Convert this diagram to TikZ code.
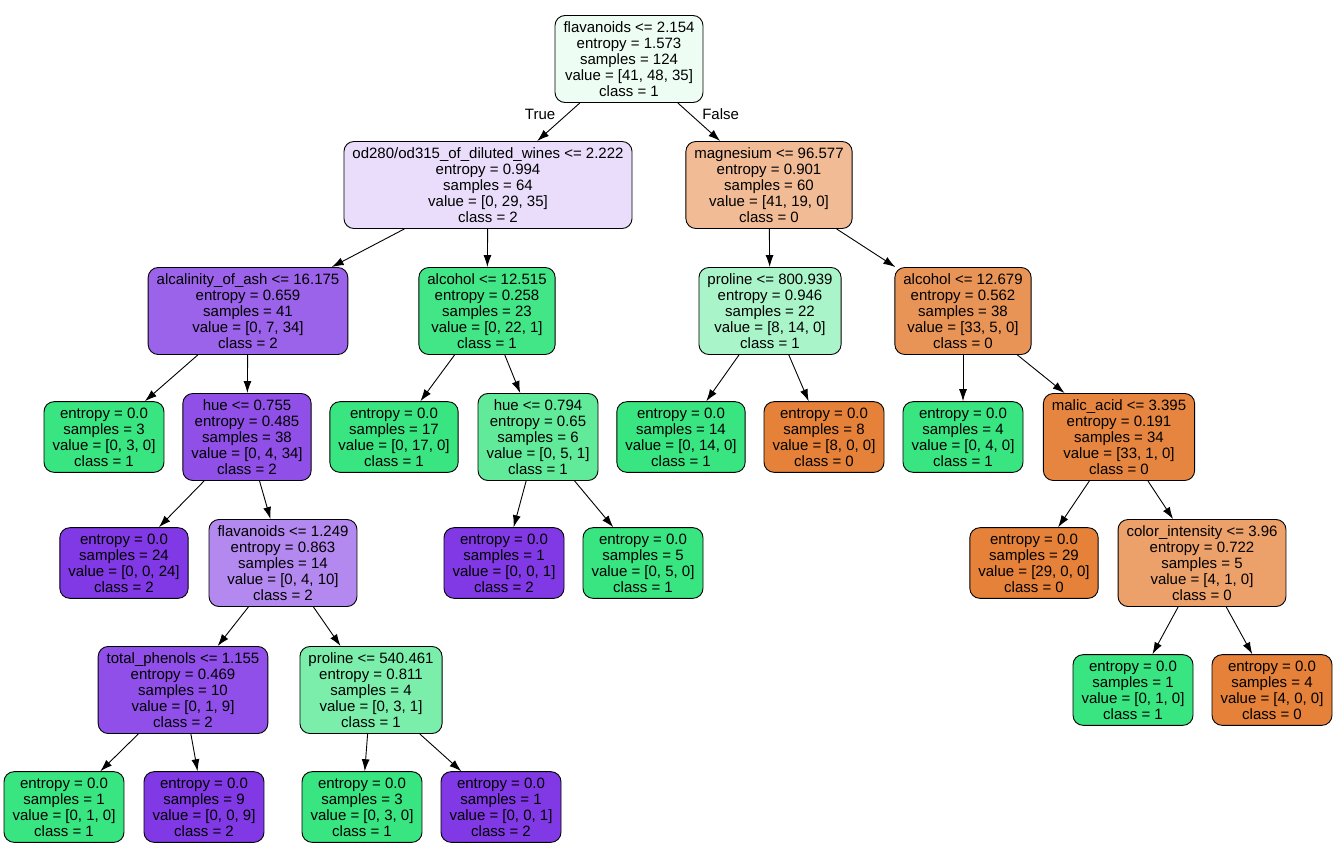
\documentclass[tikz,border=0pt]{standalone}
\usepackage{fontspec}
\setmainfont{Liberation Sans}
\usepackage{tikz}
\usetikzlibrary{%
	calc,%
	arrows.meta,%
	shapes
}

\definecolor{cls0}{HTML}{E58139}
\definecolor{cls1}{HTML}{39E581}
\definecolor{cls2}{HTML}{8139E5}
\definecolor{rootc}{HTML}{EEFDF4}
\definecolor{odc}{HTML}{E9DDFB}
\definecolor{magc}{HTML}{F1BB95}
\definecolor{alcashc}{HTML}{9B62EA}
\definecolor{alcac}{HTML}{42E687}
\definecolor{prolac}{HTML}{AAF4C9}
\definecolor{alcbc}{HTML}{E99457}
\definecolor{hueac}{HTML}{9050E8}
\definecolor{huebc}{HTML}{61EA9A}
\definecolor{malicc}{HTML}{E6853F}
\definecolor{flavbc}{HTML}{B388EF}
\definecolor{colintc}{HTML}{ECA06A}
\definecolor{phenc}{HTML}{8F4FE8}
\definecolor{prolbc}{HTML}{7BEEAB}

\tikzset{
	tnode/.style={draw=black, line width=0.9pt, rounded corners=10pt, align=center,
		inner xsep=8.5pt, inner ysep=6pt, font=\fontsize{15}{16}\selectfont},
	tedge/.style={->, line width=0.9pt},
	tlabel/.style={font=\fontsize{15}{16}\selectfont}
}

\begin{document}
\begin{tikzpicture}[x=1pt, y=-1pt, >={Latex[length=12pt,width=8pt]}]
				\useasboundingbox (0,0) rectangle (1338,848);
				
				% Root
				\node[tnode, fill=rootc] (root) at (629,59) {flavanoids <= 2.154\\entropy = 1.573\\samples = 124\\value = [41, 48, 35]\\class = 1};
				
				% Level 1
				\node[tnode, fill=odc] (od) at (488,185) {od280/od315\_of\_diluted\_wines <= 2.222\\entropy = 0.994\\samples = 64\\value = [0, 29, 35]\\class = 2};
				\node[tnode, fill=magc] (mag) at (769,185) {magnesium <= 96.577\\entropy = 0.901\\samples = 60\\value = [41, 19, 0]\\class = 0};
				
				% Level 2
				\node[tnode, fill=alcashc] (ash) at (248,311) {alcalinity\_of\_ash <= 16.175\\entropy = 0.659\\samples = 41\\value = [0, 7, 34]\\class = 2};
				\node[tnode, fill=alcac] (alca) at (487,311) {alcohol <= 12.515\\entropy = 0.258\\samples = 23\\value = [0, 22, 1]\\class = 1};
				\node[tnode, fill=prolac] (prola) at (770,311) {proline <= 800.939\\entropy = 0.946\\samples = 22\\value = [8, 14, 0]\\class = 1};
				\node[tnode, fill=alcbc] (alcb) at (963,311) {alcohol <= 12.679\\entropy = 0.562\\samples = 38\\value = [33, 5, 0]\\class = 0};
				
				% Level 3
				\node[tnode, fill=cls1] (la) at (104,437) {entropy = 0.0\\samples = 3\\value = [0, 3, 0]\\class = 1};
				\node[tnode, fill=hueac] (huea) at (247,437) {hue <= 0.755\\entropy = 0.485\\samples = 38\\value = [0, 4, 34]\\class = 2};
				\node[tnode, fill=cls1] (lb) at (394,437) {entropy = 0.0\\samples = 17\\value = [0, 17, 0]\\class = 1};
				\node[tnode, fill=huebc] (hueb) at (538,437) {hue <= 0.794\\entropy = 0.65\\samples = 6\\value = [0, 5, 1]\\class = 1};
				\node[tnode, fill=cls1] (lc) at (681,437) {entropy = 0.0\\samples = 14\\value = [0, 14, 0]\\class = 1};
				\node[tnode, fill=cls0] (ld) at (824,437) {entropy = 0.0\\samples = 8\\value = [8, 0, 0]\\class = 0};
				\node[tnode, fill=cls1] (le) at (963,437) {entropy = 0.0\\samples = 4\\value = [0, 4, 0]\\class = 1};
				\node[tnode, fill=malicc] (malic) at (1119,437) {malic\_acid <= 3.395\\entropy = 0.191\\samples = 34\\value = [33, 1, 0]\\class = 0};
				
				% Level 4
				\node[tnode, fill=cls2] (lf) at (124,563) {entropy = 0.0\\samples = 24\\value = [0, 0, 24]\\class = 2};
				\node[tnode, fill=flavbc] (flavb) at (283,563) {flavanoids <= 1.249\\entropy = 0.863\\samples = 14\\value = [0, 4, 10]\\class = 2};
				\node[tnode, fill=cls2] (lg) at (504,563) {entropy = 0.0\\samples = 1\\value = [0, 0, 1]\\class = 2};
				\node[tnode, fill=cls1] (lh) at (643,563) {entropy = 0.0\\samples = 5\\value = [0, 5, 0]\\class = 1};
				\node[tnode, fill=cls0] (li) at (1034,563) {entropy = 0.0\\samples = 29\\value = [29, 0, 0]\\class = 0};
				\node[tnode, fill=colintc] (colint) at (1202,563) {color\_intensity <= 3.96\\entropy = 0.722\\samples = 5\\value = [4, 1, 0]\\class = 0};
				
				% Level 5
				\node[tnode, fill=phenc] (phen) at (183,690) {total\_phenols <= 1.155\\entropy = 0.469\\samples = 10\\value = [0, 1, 9]\\class = 2};
				\node[tnode, fill=prolbc] (prolb) at (371,690) {proline <= 540.461\\entropy = 0.811\\samples = 4\\value = [0, 3, 1]\\class = 1};
				\node[tnode, fill=cls1] (lj) at (1133,690) {entropy = 0.0\\samples = 1\\value = [0, 1, 0]\\class = 1};
				\node[tnode, fill=cls0] (lk) at (1272,690) {entropy = 0.0\\samples = 4\\value = [4, 0, 0]\\class = 0};
				
				% Level 6
				\node[tnode, fill=cls1] (ll) at (64,807) {entropy = 0.0\\samples = 1\\value = [0, 1, 0]\\class = 1};
				\node[tnode, fill=cls2] (lm) at (204,807) {entropy = 0.0\\samples = 9\\value = [0, 0, 9]\\class = 2};
				\node[tnode, fill=cls1] (ln) at (362,807) {entropy = 0.0\\samples = 3\\value = [0, 3, 0]\\class = 1};
				\node[tnode, fill=cls2] (lo) at (501,807) {entropy = 0.0\\samples = 1\\value = [0, 0, 1]\\class = 2};
				
				% Edges
				\draw[tedge] (root) -- (od) node[tlabel, pos=0.3, left=8pt] (tr) {True};
				\draw[tedge] (root) -- (mag) node[tlabel, pos=0.3, right=8pt] (fa) {False};
				\foreach \a/\b in {od/ash, od/alca, mag/prola, mag/alcb,
					ash/la, ash/huea, alca/lb, alca/hueb, prola/lc, prola/ld, alcb/le, alcb/malic,
					huea/lf, huea/flavb, hueb/lg, hueb/lh, malic/li, malic/colint,
					flavb/phen, flavb/prolb, colint/lj, colint/lk,
					phen/ll, phen/lm, prolb/ln, prolb/lo}
				\draw[tedge] (\a) -- (\b);
			\end{tikzpicture}
\end{document}
